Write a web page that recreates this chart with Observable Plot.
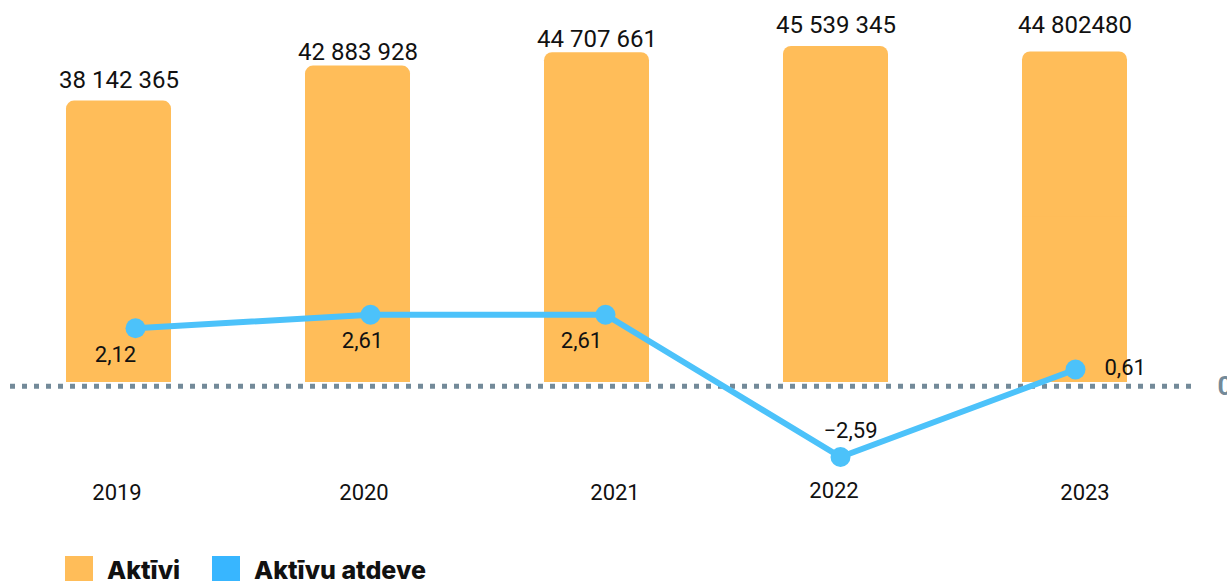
<!DOCTYPE html>
<html>
<head>
<meta charset="utf-8">
<script src="https://cdn.jsdelivr.net/npm/d3@7"></script>
<script src="https://cdn.jsdelivr.net/npm/@observablehq/plot@0.6"></script>
<style>
  html, body { margin: 0; padding: 0; background: #fff; }
  #wrap { position: relative; width: 1227px; height: 581px; overflow: hidden; font-family: Roboto, "Noto Sans", sans-serif; }
  #wrap svg { position: absolute; left: 0; top: 0; }
  .leg { position: absolute; top: 556px; height: 28px; display: flex; align-items: center; font-family: Inter, Roboto, sans-serif; font-weight: 800; font-size: 25px; color: #111; }
  .sw { position: absolute; top: 556px; width: 28px; height: 28px; }
</style>
</head>
<body>
<div id="wrap"></div>
<script>
const years = ["2019", "2020", "2021", "2022", "2023"];
const assets = [38142365, 42883928, 44707661, 45539345, 44802480];
const assetLabels = ["38 142 365", "42 883 928", "44 707 661", "45 539 345", "44 802480"];
const returns = [2.12, 2.61, 2.61, -2.59, 0.61];
const returnLabels = ["2,12", "2,61", "2,61", "−2,59", "0,61"];
const legendLabels = ["Aktīvi", "Aktīvu atdeve"];

const barColor = "#FFBD59";
const lineColor = "#4CC2FA";
const legendBlue = "#38B6FF";
const zeroColor = "#738A99";

const data = years.map((year, i) => ({
  year, assets: assets[i], assetLabel: assetLabels[i], ret: returns[i], retLabel: returnLabels[i], i
}));
const pick = i => data.filter(d => d.i === i);

const wrap = document.getElementById("wrap");

// per-label nudges (style only)
const valueDy = [-21, -14, -13, -21, -27];
const yearDx = [-2, 6, 18, -2, 10];
const yearDy = [110, 110, 110, 108, 110];

const bars = Plot.plot({
  width: 1227,
  height: 540,
  marginLeft: 65,
  marginRight: 99,
  marginTop: 46,
  marginBottom: 158,
  style: { fontFamily: "Roboto, sans-serif", color: "#111", background: "transparent" },
  x: { type: "band", domain: years, paddingInner: 0.5616, paddingOuter: 0, axis: null },
  y: { domain: [0, 45539345], axis: null },
  marks: [
    Plot.barY(data, { x: "year", y: "assets", fill: barColor, rx: 8 }),
    Plot.barY(data, { x: "year", y1: 0, y2: d => d.assets / 2, fill: barColor }),
    ...years.map((_, i) => Plot.text(pick(i), { x: "year", y: "assets", text: "assetLabel", dy: valueDy[i], fontSize: 24, fill: "#111" })),
    ...years.map((_, i) => Plot.text(pick(i), { x: "year", y: () => 0, text: "year", dx: yearDx[i], dy: yearDy[i], fontSize: 22, fill: "#111" }))
  ]
});
wrap.appendChild(bars);

const line = Plot.plot({
  width: 1227,
  height: 540,
  marginLeft: 10,
  marginRight: 35,
  marginTop: 0,
  marginBottom: 0,
  style: { fontFamily: "Roboto, sans-serif", color: "#111", background: "transparent" },
  x: { type: "point", domain: years, range: [135, 1075], padding: 0, axis: null },
  y: { domain: [-2.59, 2.61], range: [456.5, 314.3], axis: null },
  marks: [
    Plot.ruleY([0], { stroke: zeroColor, strokeWidth: 5, strokeDasharray: "5 7" }),
    Plot.line(data, { x: "year", y: "ret", stroke: lineColor, strokeWidth: 6, strokeLinejoin: "round" }),
    Plot.dot(data, { x: "year", y: "ret", r: 10, fill: lineColor, stroke: "none" }),
    Plot.text(pick(0), { x: "year", y: "ret", text: "retLabel", dx: -20, dy: 27, fontSize: 22, fill: "#111" }),
    Plot.text(pick(1), { x: "year", y: "ret", text: "retLabel", dx: -8, dy: 26, fontSize: 22, fill: "#111" }),
    Plot.text(pick(2), { x: "year", y: "ret", text: "retLabel", dx: -24, dy: 26, fontSize: 22, fill: "#111" }),
    Plot.text(pick(3), { x: "year", y: "ret", text: "retLabel", dx: 10, dy: -26, fontSize: 22, fill: "#111" }),
    Plot.text(pick(4), { x: "year", y: "ret", text: "retLabel", dx: 29, dy: -2, fontSize: 22, fill: "#111", textAnchor: "start" }),
    Plot.text([0], { y: d => d, text: d => String(d), frameAnchor: "right", dx: 25, textAnchor: "start", fontSize: 26, fontWeight: "bold", fill: zeroColor })
  ]
});
wrap.appendChild(line);

// legend
const legendItems = [
  { label: legendLabels[0], color: barColor, sw: 65, tx: 107 },
  { label: legendLabels[1], color: legendBlue, sw: 212, tx: 254 }
];
for (const it of legendItems) {
  const s = document.createElement("div");
  s.className = "sw";
  s.style.left = it.sw + "px";
  s.style.background = it.color;
  wrap.appendChild(s);
  const t = document.createElement("div");
  t.className = "leg";
  t.style.left = it.tx + "px";
  t.textContent = it.label;
  wrap.appendChild(t);
}
</script>
</body>
</html>
